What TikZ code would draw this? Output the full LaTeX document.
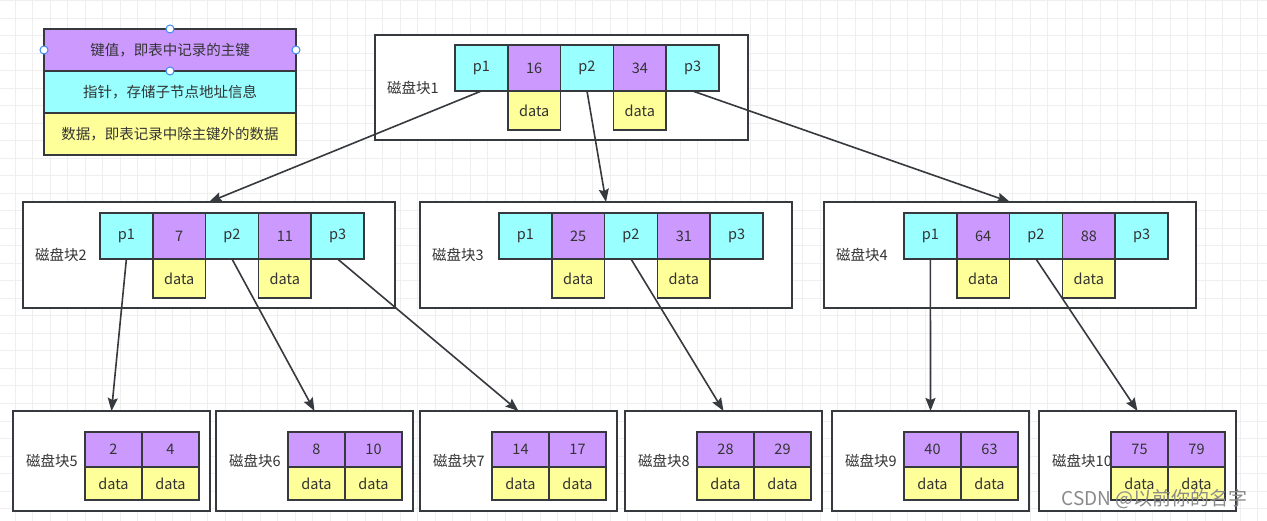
\documentclass[tikz,border=0pt]{standalone}
\usepackage{fontspec}
\setmainfont{Noto Sans CJK SC}
\usetikzlibrary{positioning,arrows.meta}
\definecolor{keyc}{HTML}{CC99FF}
\definecolor{ptrc}{HTML}{99FFFF}
\definecolor{datc}{HTML}{FFFF99}
\definecolor{edge}{HTML}{36393D}
\definecolor{txt}{HTML}{333333}
\definecolor{gridc}{HTML}{EFEFEF}
\definecolor{handle}{HTML}{3D8BF2}
\definecolor{wmark}{HTML}{8A8A8A}

\begin{document}
\begin{tikzpicture}[x=1pt,y=-1pt,
	font=\fontsize{14.5}{17}\selectfont, text=txt,
	cell/.style={draw=edge,line width=1.6pt,inner sep=0pt,outer sep=0pt,minimum width=52.8pt,minimum height=46pt},
	ptr/.style={cell,fill=ptrc},
	key/.style={cell,fill=keyc},
	dat/.style={cell,fill=datc,minimum height=39pt},
	lkey/.style={key,minimum width=57pt,minimum height=35pt},
	ldat/.style={dat,minimum width=57pt,minimum height=33pt},
	blk/.style={draw=edge,line width=1.8pt,fill=white,inner sep=0pt,outer sep=0pt,minimum width=372pt,minimum height=106pt},
	leaf/.style={blk,minimum width=197pt,minimum height=100pt},
	lbl/.style={inner sep=0pt},
	legrow/.style={draw=edge,line width=1.8pt,inner sep=0pt,outer sep=0pt,minimum width=252pt,minimum height=42pt},
	link/.style={draw=edge,line width=1.6pt,-{Stealth[length=13pt,width=10pt,inset=2pt]}},
	hdl/.style={circle,draw=handle,fill=white,line width=1pt,inner sep=0pt,minimum size=8pt}]
	\useasboundingbox (0,0) rectangle (1267,521);
	\fill[white] (0,0) rectangle (1267,521);
	% background grid
	\foreach \gx in {15,32.5,...,1267} \draw[gridc,line width=1pt] (\gx,0) -- (\gx,521);
	\foreach \gy in {1,18.5,...,521} \draw[gridc,line width=1pt] (0,\gy) -- (1267,\gy);

	% legend
	\node[legrow,fill=keyc,anchor=north west] (lg1) at (44,29) {键值，即表中记录的主键};
	\node[legrow,fill=ptrc,below=0pt of lg1] (lg2) {指针，存储子节点地址信息};
	\node[legrow,fill=datc,below=0pt of lg2] (lg3) {数据，即表记录中除主键外的数据};
	\node[hdl] (h1) at (lg1.north) {};
	\node[hdl] (h2) at (lg1.west) {};
	\node[hdl] (h3) at (lg1.east) {};
	\node[hdl] (h4) at (lg1.south) {};

	% root
	\node[blk,minimum width=373pt,minimum height=105pt,anchor=north west] (b1) at (375,35) {};
	\node[lbl,right=12pt of b1.west] (b1l) {磁盘块1};
	\node[ptr,anchor=north west] (b1p1) at (455,45) {p1};
	\node[key,right=0pt of b1p1] (b1k1) {16};
	\node[ptr,right=0pt of b1k1] (b1p2) {p2};
	\node[key,right=0pt of b1p2] (b1k2) {34};
	\node[ptr,right=0pt of b1k2] (b1p3) {p3};
	\node[dat,below=0pt of b1k1] (b1d1) {data};
	\node[dat,below=0pt of b1k2] (b1d2) {data};

	% second level
	\foreach \i/\bx/\cx/\ka/\kb in {2/23/100/7/11, 3/420/499/25/31, 4/824/904/64/88} {
		\node[blk,anchor=north west] (b\i) at (\bx,202) {};
		\node[lbl,right=12pt of b\i.west] (b\i l) {磁盘块\i};
		\node[ptr,anchor=north west] (b\i p1) at (\cx,213) {p1};
		\node[key,right=0pt of b\i p1] (b\i k1) {\ka};
		\node[ptr,right=0pt of b\i k1] (b\i p2) {p2};
		\node[key,right=0pt of b\i p2] (b\i k2) {\kb};
		\node[ptr,right=0pt of b\i k2] (b\i p3) {p3};
		\node[dat,below=0pt of b\i k1] (b\i d1) {data};
		\node[dat,below=0pt of b\i k2] (b\i d2) {data};
	}

	% leaves
	\foreach \i/\bx/\ka/\kb in {5/13/2/4, 6/216/8/10, 7/420/14/17, 8/625/28/29, 9/832/40/63, 10/1039/75/79} {
		\node[leaf,anchor=north west] (n\i) at (\bx,411) {};
		\node[lbl,right=13pt of n\i.west] (n\i l) {磁盘块\i};
		\node[lkey,anchor=north west] (n\i k1) at (\bx+72,432) {\ka};
		\node[lkey,right=0pt of n\i k1] (n\i k2) {\kb};
		\node[ldat,below=0pt of n\i k1] (n\i d1) {data};
		\node[ldat,below=0pt of n\i k2] (n\i d2) {data};
	}

	\draw[link] (b1p1.south) -- (b2.north);
	\draw[link] (b1p2.south) -- (b3.north);
	\draw[link] (b1p3.south) -- (b4.north);
	\draw[link] (b2p1.south) -- (n5.north);
	\draw[link] (b2p2.south) -- (n6.north);
	\draw[link] (b2p3.south) -- (n7.north);
	\draw[link] (b3p2.south) -- (n8.north);
	\draw[link] (b4p1.south) -- (n9.north);
	\draw[link] (b4p2.south) -- (n10.north);

	\node[text=wmark,font=\fontsize{19}{22}\selectfont,anchor=east] (wm) at (1251,499) {CSDN @以前你的名字};
\end{tikzpicture}
\end{document}
